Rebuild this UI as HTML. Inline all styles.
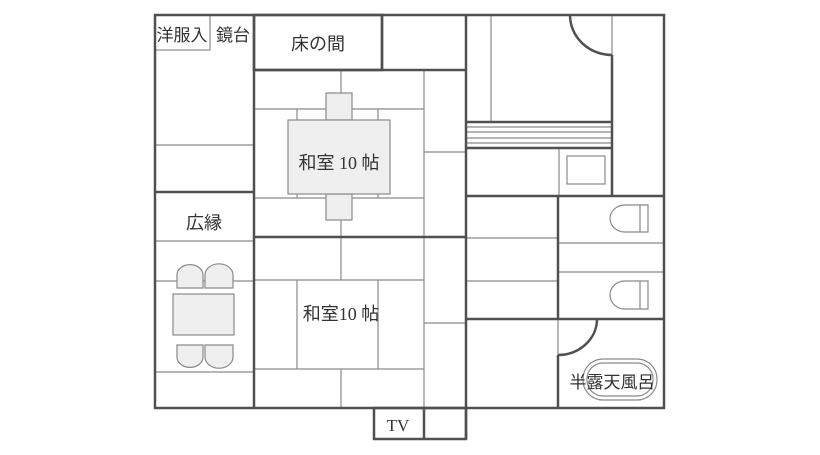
<!DOCTYPE html>
<html><head><meta charset="utf-8"><style>body{margin:0;background:#fff}svg{display:block}</style></head><body>
<svg width="820" height="455" viewBox="0 0 820 455" xmlns="http://www.w3.org/2000/svg" font-family="Liberation Sans, Noto Sans CJK JP, sans-serif">
<g stroke="#8a8a8a" stroke-width="1.2" fill="none">
<rect x="155" y="15" width="55" height="35"/>
<line x1="155" y1="145" x2="254" y2="145"/>
<line x1="155" y1="241" x2="254" y2="241"/>
<line x1="155" y1="281" x2="254" y2="281"/>
<line x1="155" y1="372" x2="254" y2="372"/>
<line x1="424" y1="70" x2="424" y2="237"/>
<line x1="254" y1="109" x2="424" y2="109"/>
<line x1="254" y1="198" x2="424" y2="198"/>
<line x1="341" y1="70" x2="341" y2="109"/>
<line x1="341" y1="198" x2="341" y2="237"/>
<line x1="297" y1="109" x2="297" y2="198"/>
<line x1="378" y1="109" x2="378" y2="198"/>
<line x1="424" y1="152" x2="466" y2="152"/>
<line x1="424" y1="237" x2="424" y2="408"/>
<line x1="424" y1="323" x2="466" y2="323"/>
<line x1="254" y1="280" x2="424" y2="280"/>
<line x1="254" y1="369" x2="424" y2="369"/>
<line x1="341" y1="237" x2="341" y2="280"/>
<line x1="341" y1="369" x2="341" y2="408"/>
<line x1="297" y1="280" x2="297" y2="369"/>
<line x1="378" y1="280" x2="378" y2="369"/>
<line x1="491" y1="15" x2="491" y2="122"/>
<line x1="466" y1="127" x2="612" y2="127"/>
<line x1="466" y1="132" x2="612" y2="132"/>
<line x1="466" y1="138" x2="612" y2="138"/>
<line x1="466" y1="143" x2="612" y2="143"/>
<line x1="612" y1="15" x2="612" y2="55"/>
<line x1="559" y1="148" x2="559" y2="196"/>
<rect x="567" y="156" width="38" height="28"/>
<line x1="466" y1="238" x2="558" y2="238"/>
<line x1="466" y1="281" x2="558" y2="281"/>
<line x1="558" y1="243" x2="664" y2="243"/>
<line x1="558" y1="272" x2="664" y2="272"/>
<line x1="558" y1="319" x2="558" y2="355"/>
<path d="M648 205 H625 A15 13.5 0 0 0 625 232 H648 Z M640 205 V232"/>
<path d="M648 281 H625 A15 14 0 0 0 625 309 H648 Z M640 281 V309"/>
<rect x="583" y="359" width="74" height="41" rx="20"/>
<rect x="587" y="363" width="66" height="33" rx="16"/>
</g>
<g stroke="#8a8a8a" stroke-width="1.2" fill="#efefef">
<rect x="326" y="93" width="26" height="27"/>
<rect x="326" y="194" width="26" height="26"/>
<rect x="288" y="120" width="102" height="74"/>
<rect x="173" y="294" width="61" height="41"/>
<path d="M177 288 V275 A10 8 0 0 1 203 275 V288 Z"/>
<path d="M205 288 V275 A10 8 0 0 1 233 275 V288 Z"/>
<path d="M177 345 V357 A10 8 0 0 0 203 357 V345 Z"/>
<path d="M205 345 V357 A10 8 0 0 0 233 357 V345 Z"/>
</g>
<g stroke="#505050" stroke-width="2.5" fill="none">
<rect x="155" y="15" width="509" height="393"/>
<line x1="254" y1="15" x2="254" y2="408"/>
<line x1="155" y1="192" x2="254" y2="192"/>
<rect x="254" y="15" width="128" height="55"/>
<line x1="382" y1="15" x2="382" y2="70"/>
<line x1="254" y1="70" x2="466" y2="70"/>
<line x1="254" y1="237" x2="466" y2="237"/>
<line x1="466" y1="15" x2="466" y2="439"/>
<rect x="374" y="408" width="92" height="31"/>
<line x1="424" y1="408" x2="424" y2="439"/>
<line x1="466" y1="122" x2="612" y2="122"/>
<line x1="466" y1="148" x2="612" y2="148"/>
<line x1="612" y1="55" x2="612" y2="196"/>
<path d="M570 15 A42 40 0 0 0 612 55"/>
<line x1="466" y1="196" x2="664" y2="196"/>
<line x1="558" y1="196" x2="558" y2="319"/>
<line x1="558" y1="355" x2="558" y2="408"/>
<line x1="466" y1="319" x2="664" y2="319"/>
<path d="M597 319 A39 36 0 0 1 558 355"/>
</g>
<g fill="#333" font-size="17" text-anchor="middle">
<text x="182" y="41">洋服入</text>
<text x="233" y="41">鏡台</text>
<text x="318" y="50" font-size="18">床の間</text>
<text x="339" y="169" font-size="18" font-family="Liberation Serif, Noto Sans CJK JP, serif">和室 10 帖</text>
<text x="204" y="229" font-size="18">広縁</text>
<text x="341" y="320" font-size="18" font-family="Liberation Serif, Noto Sans CJK JP, serif">和室10 帖</text>
<text x="398" y="431" font-family="Liberation Serif, serif">TV</text>
<text x="612" y="388" font-size="17">半露天風呂</text>
</g>
</svg>
</body></html>
